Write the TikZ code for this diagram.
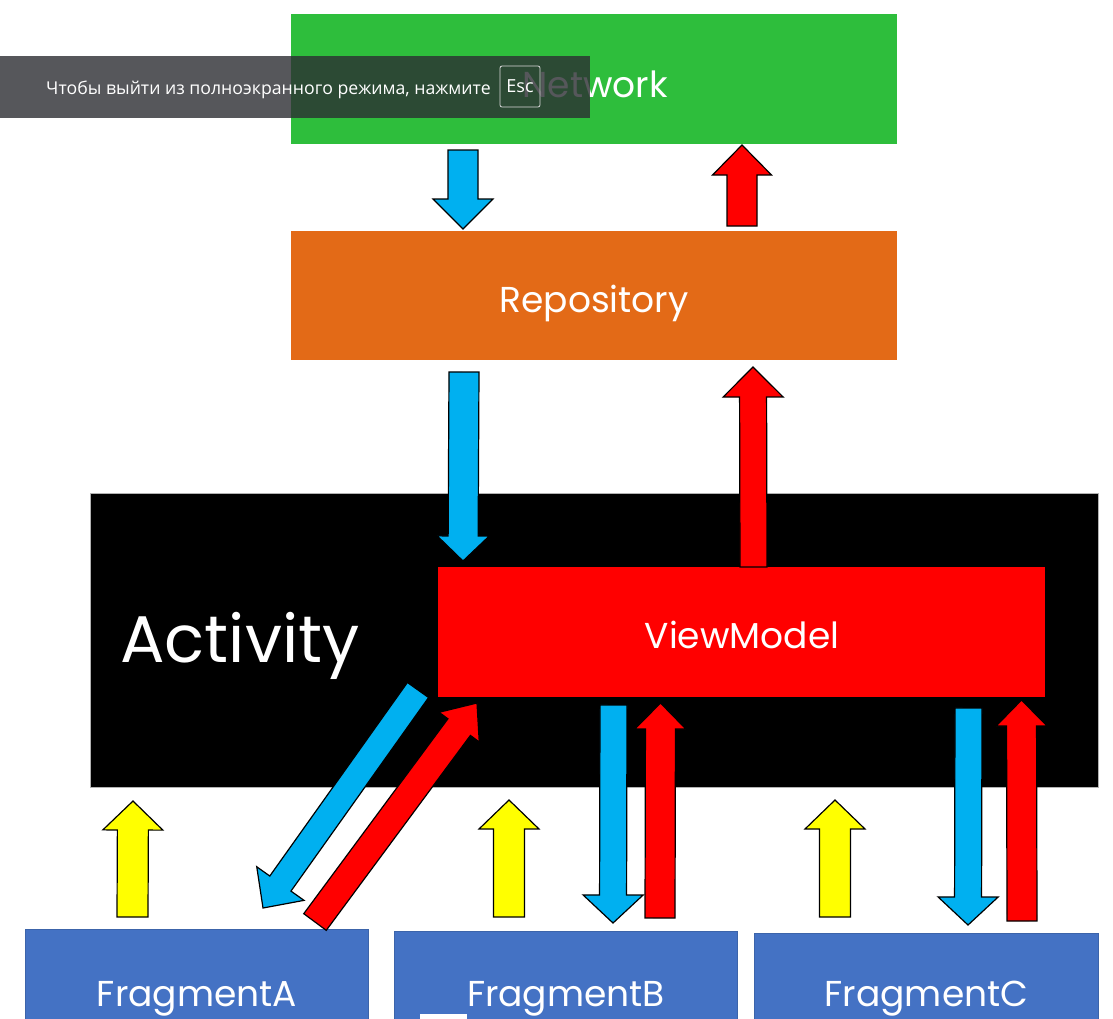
\documentclass[tikz,border=0pt]{standalone}
\usepackage{fontspec}
\setmainfont{Poppins}
\newfontfamily\bannerfont{Open Sans}
\usetikzlibrary{calc}
\definecolor{netgreen}{RGB}{46,190,60}
\definecolor{repoorange}{RGB}{227,106,23}
\definecolor{vmred}{RGB}{255,0,0}
\definecolor{arrowblue}{RGB}{0,176,240}
\definecolor{arrowyellow}{RGB}{255,255,0}
\definecolor{fragblue}{RGB}{68,114,196}
\definecolor{fragborder}{RGB}{60,100,170}
\definecolor{bannergray}{RGB}{44,46,51}
% #1 fill, #2 tail, #3 tip, #4 half shaft width, #5 half head width, #6 head length
\newcommand{\blockarrow}[6]{%
  \path coordinate (bah) at ($(#3)!#6!(#2)$);
  \filldraw[fill=#1, draw=black, line width=1.2pt, line join=miter]
    ($(#2)!#4!90:(#3)$) -- ($(bah)!#4!90:(#3)$) -- ($(bah)!#5!90:(#3)$) -- (#3)
    -- ($(bah)!#5!-90:(#3)$) -- ($(bah)!#4!-90:(#3)$) -- ($(#2)!#4!-90:(#3)$) -- cycle;
}
\tikzset{
  box/.style={inner sep=0pt, outer sep=0pt},
  lbl/.style={text=white, inner sep=0pt, font=\fontsize{36}{40}\selectfont},
}
\begin{document}
\begin{tikzpicture}[x=1pt,y=-1pt]
\useasboundingbox (0,0) rectangle (1113,1018);
\clip (0,0) rectangle (1113,1018);
\fill[white] (0,0) rectangle (1113,1018);

% boxes
\node[box, fill=netgreen, minimum width=606pt, minimum height=130pt] (net) at (594,79) {};
\node[box, fill=repoorange, minimum width=606pt, minimum height=129pt] (repo) at (594,295.5) {};
\node[box, fill=black, draw=gray!60, line width=0.8pt, minimum width=1008pt, minimum height=294pt] (act) at (594,640) {};
\node[box, fill=vmred, minimum width=607pt, minimum height=130pt] (vm) at (741.5,632) {};
\node[box, fill=fragblue, draw=fragborder, line width=0.8pt, minimum width=343pt, minimum height=131pt] (fa) at (196.5,994.5) {};
\node[box, fill=fragblue, draw=fragborder, line width=0.8pt, minimum width=343pt, minimum height=129pt] (fb) at (565.5,995.5) {};
\node[box, fill=fragblue, draw=fragborder, line width=0.8pt, minimum width=344pt, minimum height=127pt] (fc) at (926,996.5) {};

% labels
\node[lbl, anchor=base] (netlbl) at (595,97) {Network};
\node[lbl, anchor=base] (repolbl) at (594,312) {Repository};
\node[lbl, anchor=base] (vmlbl) at (742,648) {ViewModel};
\node[lbl, anchor=base west, font=\fontsize{66}{72}\selectfont] (actlbl) at (120,662) {Activity};
\node[lbl, anchor=base] (falbl) at (197,1006) {FragmentA};
\node[lbl, anchor=base] (fblbl) at (566,1006) {FragmentB};
\node[lbl, anchor=base] (fclbl) at (926.5,1006) {FragmentC};

% arrow end points
\coordinate (a1t) at (463,150);   \coordinate (a1h) at (463,229);
\coordinate (a2t) at (742,226);   \coordinate (a2h) at (742,145);
\coordinate (a3t) at (464,372);   \coordinate (a3h) at (463,561);
\coordinate (a4t) at (753.5,567); \coordinate (a4h) at (753,367);
\coordinate (a5t) at (418,690);   \coordinate (a5h) at (263,908);
\coordinate (a6t) at (315,922);   \coordinate (a6h) at (477,703);
\coordinate (a7t) at (613.5,705); \coordinate (a7h) at (613,923);
\coordinate (a8t) at (660,918);   \coordinate (a8h) at (660.5,703);
\coordinate (a9t) at (968.5,708); \coordinate (a9h) at (968,925);
\coordinate (a10t) at (1022,921); \coordinate (a10h) at (1021.5,700);
\coordinate (y1t) at (132.5,917); \coordinate (y1h) at (133,801);
\coordinate (y2t) at (509,917);   \coordinate (y2h) at (509,800);
\coordinate (y3t) at (835,917);   \coordinate (y3h) at (835,800);

\blockarrow{arrowblue}{a1t}{a1h}{15pt}{30pt}{30pt}
\blockarrow{vmred}{a2t}{a2h}{15pt}{29.5pt}{30pt}
\blockarrow{arrowblue}{a3t}{a3h}{15pt}{26pt}{25pt}
\blockarrow{vmred}{a4t}{a4h}{13.5pt}{30pt}{30pt}
\blockarrow{arrowblue}{a5t}{a5h}{13pt}{29pt}{30pt}
\blockarrow{vmred}{a6t}{a6h}{14pt}{25pt}{30pt}
\blockarrow{arrowblue}{a7t}{a7h}{13.5pt}{30pt}{28pt}
\blockarrow{vmred}{a8t}{a8h}{15pt}{25.5pt}{26pt}
\blockarrow{arrowblue}{a9t}{a9h}{13.5pt}{30pt}{28pt}
\blockarrow{vmred}{a10t}{a10h}{15pt}{25.5pt}{26pt}
\blockarrow{arrowyellow}{y1t}{y1h}{15.5pt}{30pt}{29pt}
\blockarrow{arrowyellow}{y2t}{y2h}{15.5pt}{30pt}{29pt}
\blockarrow{arrowyellow}{y3t}{y3h}{15.5pt}{30pt}{29pt}

% small white mark at the bottom
\node[box, fill=white, minimum width=47pt, minimum height=6pt, anchor=north west] (mark) at (420,1014) {};

% full-screen banner
\node[box, fill=bannergray, fill opacity=0.8, minimum width=590pt, minimum height=62pt, anchor=north west] (banner) at (0,56) {};
\node[anchor=base west, inner sep=0pt, text=white, font=\bannerfont\fontsize{17.7}{20}\selectfont] (bannertxt) at (46,94) {Чтобы выйти из полноэкранного режима, нажмите};
\node[draw=gray!30, rounded corners=2pt, line width=0.8pt, minimum width=40pt, minimum height=41pt, inner sep=0pt, text=white, font=\bannerfont\fontsize{18}{20}\selectfont] (esc) at (520,86.5) {Esc};
\end{tikzpicture}
\end{document}
